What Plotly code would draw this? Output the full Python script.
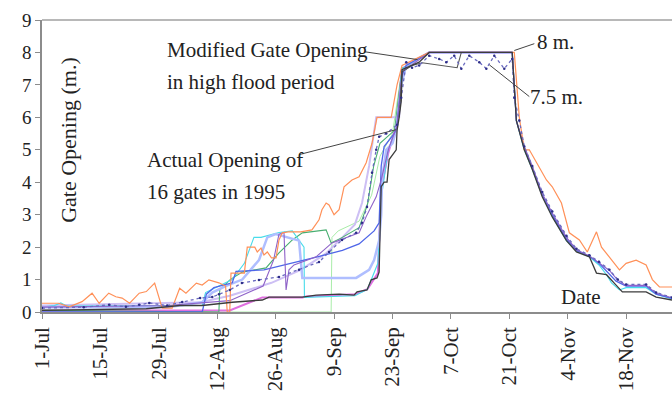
import numpy as np
import pandas as pd
import plotly.graph_objects as go

# ---------------- data (days since 1-Jul-1995, gate opening in m) ----------------
orange_days = [0, 4, 6.5, 9.6, 12, 13.7, 16, 17.7, 19.2, 21, 23.3, 25, 27, 28, 28.8, 31.2, 33, 34.5, 37,
               38.4, 40, 42.4, 44, 44.4, 45, 45.3, 48.5, 49.2, 51, 51.6, 52.5, 53.2, 54, 55, 56.1, 56.8,
               57.6, 59, 62, 64.7, 66.4, 67.1, 68.1, 68.8, 70, 71.2, 72.4, 74.3, 76, 77.7, 79.1, 80.3,
               83.7, 85.1, 86.3, 92.8, 113.2, 114.4, 115.6, 116.8, 118.5, 120.9, 122.3, 124.5, 126.4,
               128.8, 130.7, 132.9, 134.1, 136, 138.4, 140, 142.4, 144.8, 146.3, 148, 151]
orange_vals = [0.27, 0.27, 0.16, 0.32, 0.58, 0.27, 0.58, 0.47, 0.43, 0.27, 0.58, 0.63, 0.89, 0.43, 0.12,
               0.12, 0.73, 0.58, 0.89, 0.83, 0.99, 0.9, 0.8, 0.0, 0.0, 1.2, 1.2, 2.0, 2.0, 1.85, 1.97,
               1.76, 1.85, 1.67, 1.67, 2.22, 2.44, 2.47, 2.47, 2.53, 2.84, 3.15, 3.36, 3.3, 3.0, 3.15,
               3.86, 4.07, 4.17, 4.6, 5.2, 6.0, 6.0, 7.0, 7.6, 8.0, 8.0, 6.0, 5.0, 5.0, 4.6, 4.07, 3.86,
               3.36, 2.44, 2.22, 1.85, 2.47, 2.0, 1.7, 1.3, 1.5, 1.6, 1.45, 1.0, 0.77, 0.77]

black_days = [0, 25, 33, 38.4, 45.6, 52.8, 54.4, 62.4, 65.7, 71.2, 74.8, 75.5, 77.9, 78.9, 80.3, 80.8,
              81.3, 82, 82.7, 83.2, 84.9, 85.1, 85.6, 86.1, 86.3, 87.3, 90.4, 92.8, 112.7, 113.7, 115.6,
              117.5, 119.9, 122.3, 125.7, 128.1, 131.2, 132.9, 135.3, 137.6, 139.1, 144.8, 147.2, 151]
black_vals = [0.05, 0.1, 0.2, 0.2, 0.3, 0.37, 0.46, 0.46, 0.52, 0.55, 0.52, 0.62, 0.68, 0.99, 1.05, 1.23,
              3.86, 4.0, 4.0, 4.7, 5.0, 5.6, 6.0, 6.5, 7.47, 7.53, 7.7, 8.0, 8.0, 5.9, 5.0, 4.4, 3.55,
              2.93, 2.2, 1.85, 1.7, 1.2, 1.15, 0.83, 0.62, 0.62, 0.46, 0.37]

grey2_days = [85.6, 86.3, 88.7, 91.1, 99.5, 100.5, 112.7]
grey2_vals = [6.0, 7.4, 7.6, 7.68, 7.53, 8.0, 8.0]

navy_days = [0, 10, 16.1, 20.1, 23.3, 25.7, 30, 33.6, 37.9, 40.8, 42.4, 45, 47.9, 52, 56.8, 61.6, 66.4,
             68.8, 71.9, 75.3, 76.7, 77.9, 79.1, 80.1, 80.8, 82.5, 85.1, 86.1, 87.3, 88.7, 90.4, 92.8,
             95.2, 96.9, 98.8, 100.5, 102.4, 104.8, 106.5, 108.4, 110.8, 112.7, 113.2, 114.4, 115.6,
             117.5, 119.9, 122.3, 125.7, 128.1, 131.2, 133.5, 136, 138, 140, 144.8, 147.2, 151]
navy_vals = [0.12, 0.15, 0.22, 0.16, 0.22, 0.28, 0.2, 0.31, 0.43, 0.46, 0.55, 0.68, 0.89, 0.99, 1.08,
             1.3, 1.54, 1.85, 2.22, 2.44, 2.75, 3.24, 4.29, 5.0, 5.4, 5.5, 5.77, 6.6, 7.7, 7.53, 7.6,
             7.9, 7.8, 7.7, 7.9, 7.5, 7.9, 7.7, 7.5, 7.9, 7.5, 7.8, 6.6, 5.9, 5.1, 4.5, 3.7, 3.1, 2.35,
             1.95, 1.75, 1.55, 1.3, 1.0, 0.85, 0.85, 0.6, 0.45]

blue_days = [0, 38.4, 39.4, 41.2, 45.6, 46.5, 53.2, 60, 66, 72, 76, 79.6, 80.8, 81.3, 82, 84.4, 85.1,
             86.3, 87.3, 92.8, 112.7, 113.7, 115.6, 117.5, 119.9, 122.3, 125.7, 128.1, 131.2, 133.5,
             135.3, 137.6, 140, 144.8, 147.2, 151]
blue_vals = [0.0, 0.0, 0.55, 0.75, 0.9, 1.25, 1.3, 1.5, 1.7, 1.9, 2.1, 2.5, 2.75, 4.5, 5.1, 5.5, 5.7,
             7.3, 7.6, 8.0, 8.0, 5.9, 5.05, 4.45, 3.6, 3.0, 2.25, 1.9, 1.72, 1.5, 1.25, 0.95, 0.8, 0.8,
             0.55, 0.42]

lightblue_days = [0, 30, 38.4, 40.8, 44, 48, 52, 54, 56, 61.6, 62.4, 75.3, 78.4, 79.6, 80.8, 81.3, 81.5,
                  82.5, 84, 84.9, 86.1, 87.3, 92.8, 112.7]
lightblue_vals = [0.15, 0.15, 0.3, 0.6, 0.8, 1.0, 1.6, 2.3, 2.4, 2.2, 1.05, 1.05, 1.3, 1.6, 2.2, 3.0,
                  4.1, 5.0, 5.2, 5.6, 7.0, 7.6, 8.0, 8.0]

cyan_days = [0, 3, 4.5, 6, 38.4, 39.2, 42.4, 45.6, 48.5, 50.8, 52.5, 56.8, 60, 62.8, 62.9, 75, 78, 80.5,
             81.3, 83, 85, 86.3, 92.8, 112.7, 113.7, 115.6, 117.5, 119.9, 122.3, 125.7, 128.1, 131.2,
             133.5, 135.3, 136.5, 138.4, 140, 144.8, 147.2, 151]
cyan_vals = [0.15, 0.2, 0.28, 0.18, 0.2, 0.6, 0.8, 1.0, 1.5, 2.3, 2.3, 2.45, 2.5, 2.0, 0.45, 0.5, 0.7,
             1.5, 3.5, 5.0, 5.7, 7.5, 8.0, 8.0, 5.9, 5.0, 4.4, 3.6, 2.95, 2.2, 1.88, 1.7, 1.45, 1.15,
             0.9, 0.68, 0.75, 0.75, 0.55, 0.4]

green_days = [0, 42.4, 42.6, 45.1, 48, 53.7, 56.8, 60, 62.4, 64.7, 68.1, 69.3, 72, 76, 78, 79.5, 81,
              84.5, 86.3, 92.8, 112.7]
green_vals = [0.05, 0.0, 0.68, 1.0, 1.23, 1.36, 1.82, 2.22, 2.44, 2.47, 2.53, 2.13, 2.3, 2.6, 3.3, 4.5,
              5.2, 5.6, 7.5, 8.0, 8.0]

lightgreen_days = [0, 44, 69.3, 69.5, 71, 76, 79, 81, 84, 86.3, 92.8, 112.7]
lightgreen_vals = [0.08, 0.0, 0.0, 2.3, 2.5, 2.8, 3.6, 4.8, 5.5, 7.5, 8.0, 8.0]

magenta_days = [0, 45, 52.8, 62.4, 63.3, 75, 78, 80.5, 81.3, 83, 85, 86.3, 92.8, 112.7]
magenta_vals = [0.05, 0.05, 0.45, 0.45, 0.48, 0.55, 0.7, 1.2, 3.8, 4.9, 5.8, 7.5, 8.0, 8.0]

purple_days = [0, 30, 45, 53, 55.5, 56.8, 58, 58.5, 59.2, 60.4, 65.7, 69.5, 76, 77.7, 80.1, 81.3, 83,
               85, 86.3, 92.8, 112.7, 113.7, 115.6, 117.5, 119.9, 122.3, 125.7, 128.1, 131.2, 133.5,
               136, 138, 140, 144.8, 147.2, 151]
purple_vals = [0.15, 0.2, 0.35, 0.8, 1.6, 2.4, 2.45, 0.68, 1.3, 1.45, 1.7, 2.13, 2.44, 2.94, 3.55, 4.07,
               5.0, 5.7, 7.4, 8.0, 8.0, 5.9, 5.1, 4.5, 3.65, 3.05, 2.3, 1.92, 1.73, 1.52, 1.28, 0.98,
               0.82, 0.82, 0.58, 0.44]

lavender_days = [0, 20, 38, 45, 55, 62, 68, 72, 75, 76.7, 78.4, 80.1, 85.6, 86.3, 87.3, 92.8, 112.7]
lavender_vals = [0.2, 0.25, 0.3, 0.5, 0.9, 1.3, 1.8, 2.3, 2.7, 3.36, 4.5, 6.0, 6.0, 7.3, 7.6, 8.0, 8.0]

tick_days = [0, 14, 28, 42, 56, 70, 84, 98, 112, 126, 140]
tick_labels = ["1-Jul", "15-Jul", "29-Jul", "12-Aug", "26-Aug", "9-Sep", "23-Sep", "7-Oct",
               "21-Oct", "4-Nov", "18-Nov"]

BASE = pd.Timestamp("1995-07-01")


def to_dates(days):
    return BASE + pd.to_timedelta(np.asarray(days, dtype=float), unit="D")


series = [
    (lightgreen_days, lightgreen_vals, "#A8ECA8", 1.0, None),
    (lavender_days, lavender_vals, "#CDBFF4", 2.0, None),
    (magenta_days, magenta_vals, "#E070E0", 2.0, None),
    (green_days, green_vals, "#48AE70", 1.1, None),
    (cyan_days, cyan_vals, "#48DCEA", 1.1, None),
    (lightblue_days, lightblue_vals, "#AFBEFF", 2.5, None),
    (blue_days, blue_vals, "#4F66E8", 1.3, None),
    (purple_days, purple_vals, "#8E62C8", 1.1, None),
    (orange_days, orange_vals, "#FF9058", 1.2, None),
    (grey2_days, grey2_vals, "#555555", 1.1, None),
    (navy_days, navy_vals, "#6A6AC0", 1.3, "dot"),
    (black_days, black_vals, "#3C3C3C", 1.3, None),
]

fig = go.Figure()
for d, v, col, w, dash in series:
    fig.add_trace(go.Scatter(
        x=to_dates(d), y=v, mode="lines",
        line=dict(color=col, width=w, dash=dash),
        hoverinfo="skip", showlegend=False))
# markers on dotted series
fig.add_trace(go.Scatter(x=to_dates(navy_days), y=navy_vals, mode="markers",
                         marker=dict(color="#2E2E88", size=2.5), showlegend=False,
                         hoverinfo="skip"))

font_serif = "Liberation Serif, Times New Roman, serif"
x_end = BASE + pd.Timedelta(days=151)

fig.update_layout(
    width=672, height=405,
    margin=dict(l=42, r=0, t=20, b=93),
    paper_bgcolor="white", plot_bgcolor="white",
    font=dict(family=font_serif, color="#222222"),
    xaxis=dict(
        range=[BASE, x_end], showgrid=False, zeroline=False,
        showline=True, linecolor="#8C8C8C", linewidth=1.5,
        ticks="outside", ticklen=5, tickcolor="#8C8C8C", tickwidth=1.2,
        tickvals=to_dates(tick_days), ticktext=tick_labels,
        tickangle=-90, tickfont=dict(size=21, family=font_serif, color="#222222"),
    ),
    yaxis=dict(
        range=[0, 9], showgrid=False, zeroline=False,
        showline=True, linecolor="#8C8C8C", linewidth=1.5,
        ticks="outside", ticklen=5, tickcolor="#8C8C8C", tickwidth=1.2,
        tickvals=list(range(10)), tickfont=dict(size=19, family=font_serif, color="#222222"),
    ),
)

# top border line
fig.add_shape(type="line", xref="paper", yref="paper", x0=0, x1=1, y0=1, y1=1,
              line=dict(color="#A0A0A0", width=1.5))

# leader lines (day, value)
leaders = [((77.4, 8.02), (90.0, 7.78)),
           ((61.6, 4.85), (84.9, 5.62)),
           ((113.2, 8.06), (118.0, 8.27)),
           ((107.2, 7.62), (116.8, 6.64))]
for (d0, v0), (d1, v1) in leaders:
    fig.add_shape(type="line", xref="x", yref="y",
                  x0=BASE + pd.Timedelta(days=d0), y0=v0,
                  x1=BASE + pd.Timedelta(days=d1), y1=v1,
                  line=dict(color="#444444", width=1))

ann = [
    ("Modified Gate Opening", 0.195, 0.897, 21),
    ("in high flood period", 0.195, 0.788, 21),
    ("Actual Opening of", 0.1635, 0.5205, 21),
    ("16 gates in 1995", 0.1635, 0.411, 21),
    ("8 m.", 0.7825, 0.925, 21),
    ("7.5 m.", 0.771, 0.736, 21),
]
for txt, x, y, s in ann:
    fig.add_annotation(text=txt, xref="paper", yref="paper", x=x, y=y,
                       xanchor="left", yanchor="middle", showarrow=False,
                       font=dict(size=s, family=font_serif, color="#222222"))

fig.add_annotation(text="Date", xref="paper", yref="paper", x=0.856, y=0.051,
                   xanchor="center", yanchor="middle", showarrow=False,
                   font=dict(size=21, family=font_serif, color="#222222"))
fig.add_annotation(text="Gate Opening (m.)", xref="paper", yref="paper", x=0.041, y=0.589,
                   xanchor="center", yanchor="middle", textangle=-90, showarrow=False,
                   font=dict(size=22, family=font_serif, color="#222222"))

fig.write_html("out.html")
